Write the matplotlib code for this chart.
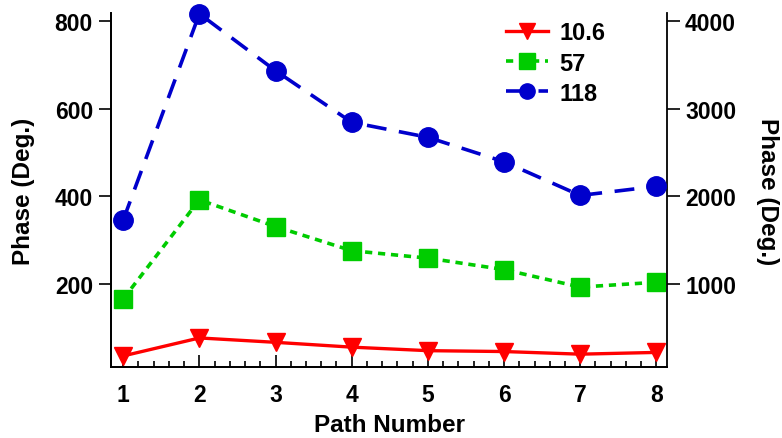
import matplotlib
matplotlib.use("Agg")
import matplotlib.pyplot as plt
from matplotlib.ticker import MultipleLocator, AutoMinorLocator

paths = [1, 2, 3, 4, 5, 6, 7, 8]
phase_10_6 = [36, 77, 67, 56, 48, 46, 40, 44]
phase_57 = [166, 392, 331, 276, 259, 233, 193, 204]
phase_118 = [1730, 4082, 3432, 2844, 2673, 2394, 2010, 2114]
labels = ["10.6", "57", "118"]

plt.rcParams['font.family'] = ['Liberation Sans', 'DejaVu Sans']
plt.rcParams['font.weight'] = 'bold'

fig = plt.figure(figsize=(7.82, 4.39), dpi=100)
ax = fig.add_axes([0.142, 0.161, 0.711, 0.807])
ax2 = ax.twinx()

l1, = ax.plot(paths, phase_10_6, color='#ff0000', lw=2.4, marker='v', ms=13,
              label=labels[0], clip_on=False, zorder=3)
l2, = ax.plot(paths, phase_57, color='#00cc00', lw=2.6, ls=(0, (2, 1.6)), marker='s', ms=13,
              label=labels[1], clip_on=False, zorder=3)
l3, = ax2.plot(paths, phase_118, color='#0000cc', lw=2.6, ls=(0, (5.5, 3.5)), marker='o', ms=14,
               label=labels[2], clip_on=False, zorder=3)

ax.set_xlim(0.84, 8.14)
ax.set_ylim(10, 818)
ax2.set_ylim(50, 4090)

ax.xaxis.set_major_locator(MultipleLocator(1))
ax.xaxis.set_minor_locator(AutoMinorLocator(5))
ax.yaxis.set_major_locator(MultipleLocator(200))
ax2.yaxis.set_major_locator(MultipleLocator(1000))

for a in (ax, ax2):
    a.spines['top'].set_visible(False)
    for s in a.spines.values():
        s.set_linewidth(1.3)
ax.spines['right'].set_visible(False)

ax.tick_params(axis='x', which='major', direction='in', length=9, width=1.2,
               labelsize=16.5, pad=11)
ax.tick_params(axis='x', which='minor', direction='in', length=4.5, width=1.2)
ax.tick_params(axis='y', which='major', direction='out', length=9, width=1.2,
                labelsize=16.5, pad=4)
ax2.tick_params(axis='y', which='major', direction='out', length=9, width=1.2,
                labelsize=16.5, pad=4)

ax.set_xlabel("Path Number", fontsize=17.5, fontweight='bold', labelpad=5)
ax.set_ylabel("Phase (Deg.)", fontsize=17.5, fontweight='bold', labelpad=14)
ax2.set_ylabel("Phase (Deg.)", fontsize=17.5, fontweight='bold', rotation=270, labelpad=31)

leg = ax.legend(handles=[l1, l2, l3], loc='upper left', bbox_to_anchor=(0.694, 1.003),
                frameon=False, fontsize=17, handlelength=1.75, handletextpad=0.5,
                labelspacing=0.3, borderaxespad=0)
for t in leg.get_texts():
    t.set_fontweight('bold')
for h in leg.legend_handles:
    h.set_markersize(11)

fig.savefig("out.png", dpi=100)
